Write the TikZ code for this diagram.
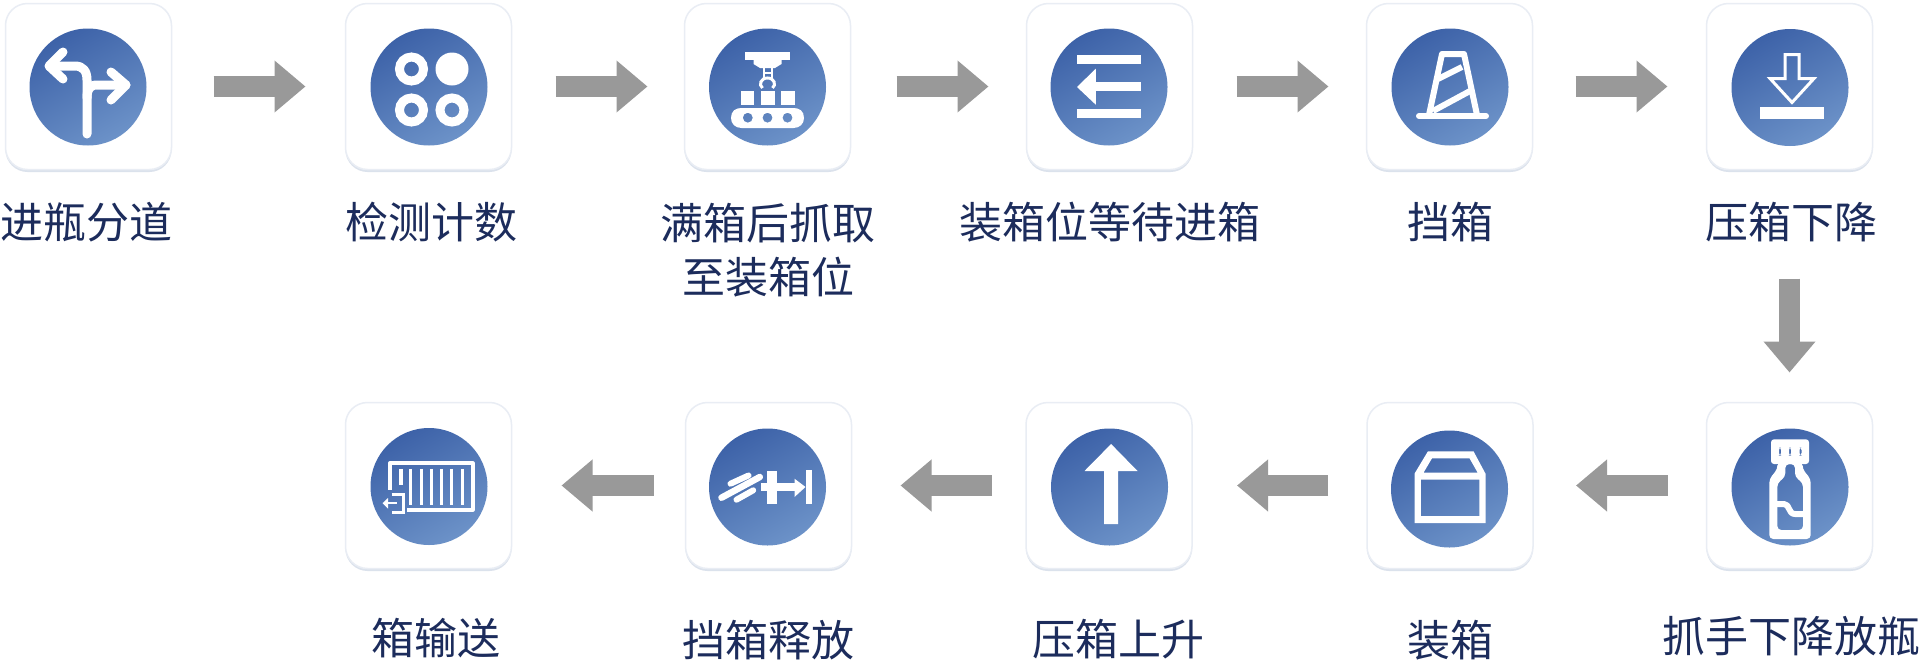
\documentclass[tikz,border=0pt]{standalone}
\usepackage{fontspec}
\setmainfont{Noto Sans CJK SC}
\usetikzlibrary{arrows.meta,shadows}
\definecolor{navy}{HTML}{1C2C5C}
\definecolor{icondark}{HTML}{3D62A8}
\definecolor{iconlight}{HTML}{6C92C8}
\definecolor{cardedge}{HTML}{E9EDF4}
\definecolor{cardshadow}{HTML}{CDD6E4}
\definecolor{arrowgray}{HTML}{999999}
\tikzset{
  cardbox/.style={draw=cardedge,line width=1.5pt,fill=white,rounded corners=22pt,
    minimum size=166pt,inner sep=0pt,outer sep=0pt,
    drop shadow={shadow xshift=0pt,shadow yshift=-2.5pt,opacity=.7,fill=cardshadow}},
  iconbg/.style={circle,minimum size=117pt,inner sep=0pt,outer sep=0pt,
    top color=icondark,bottom color=iconlight,shading angle=30},
  steplabel/.style={text=navy,font=\fontsize{43}{54}\selectfont,align=center,inner sep=0pt},
  flow/.style={draw=arrowgray,line width=21pt,-{Triangle[length=31pt,width=50pt,fill=arrowgray]}},
  wline/.style={draw=white,line cap=round,line join=round},
}
\newcommand{\stepcard}[5]{%
  \node[cardbox] (c#1) at (#2,#3) {};
  \node[iconbg] (i#1) at (#4,#5) {};
}
\begin{document}
\begin{tikzpicture}[x=1pt,y=-1pt]
\fill[white] (0,0) rectangle (1920,665);
\useasboundingbox (0,0) rectangle (1920,665);

% cards and discs
\stepcard{1}{88.5}{86.5}{88}{87}
\stepcard{2}{428.5}{86.5}{429}{87}
\stepcard{3}{767.5}{86.5}{767.5}{87}
\stepcard{4}{1109.5}{86.5}{1109}{87}
\stepcard{5}{1449.5}{86.5}{1450}{87}
\stepcard{6}{1789.5}{86.5}{1790}{87.5}
\stepcard{7}{1789.5}{485.5}{1790}{487}
\stepcard{8}{1450}{485.5}{1449.5}{489}
\stepcard{9}{1109}{485.5}{1109.5}{487}
\stepcard{10}{768.5}{485.5}{767.5}{487}
\stepcard{11}{428.5}{485.5}{429}{486.5}

% labels
\node[steplabel] (t1) at (87,222) {进瓶分道};
\node[steplabel] (t2) at (431,222) {检测计数};
\node[steplabel] (t3) at (768,250) {满箱后抓取\\至装箱位};
\node[steplabel] (t4) at (1110,222) {装箱位等待进箱};
\node[steplabel] (t5) at (1450,222) {挡箱};
\node[steplabel] (t6) at (1791,222) {压箱下降};
\node[steplabel] (t7) at (1791,636) {抓手下降放瓶};
\node[steplabel] (t8) at (1450,640) {装箱};
\node[steplabel] (t9) at (1118,639) {压箱上升};
\node[steplabel] (t10) at (768,640) {挡箱释放};
\node[steplabel] (t11) at (436,638) {箱输送};

% flow arrows
\draw[flow,shorten <=42pt,shorten >=40pt] (c1.east) -- (c2.west);
\draw[flow,shorten <=44pt,shorten >=37pt] (c2.east) -- (c3.west);
\draw[flow,shorten <=46pt,shorten >=38pt] (c3.east) -- (c4.west);
\draw[flow,shorten <=44pt,shorten >=38pt] (c4.east) -- (c5.west);
\draw[flow,shorten <=43pt,shorten >=39pt] (c5.east) -- (c6.west);
\draw[flow,shorten <=109pt,shorten >=30pt] (c6.south) -- (c7.north);
\draw[flow,shorten <=39pt,shorten >=43pt] (c7.west) -- (c8.east);
\draw[flow,shorten <=39pt,shorten >=45pt] (c8.west) -- (c9.east);
\draw[flow,shorten <=34pt,shorten >=49pt] (c9.west) -- (c10.east);
\draw[flow,shorten <=32pt,shorten >=50pt] (c10.west) -- (c11.east);

% icon 1: fork
\begin{scope}[shift={(i1.center)}]
  \draw[wline,line width=9pt] (-1,47) -- (-1,-7) .. controls (-1,-16) and (-5,-21) .. (-13,-21) -- (-38,-21);
  \draw[wline,line width=9pt] (-25,-35) -- (-39,-21) -- (-25,-8);
  \draw[wline,line width=9pt] (-1,11) .. controls (-1,2) and (2,-2) .. (9,-2) -- (38,-2);
  \draw[wline,line width=9pt] (23,-15) -- (38,-2) -- (23,13);
\end{scope}

% icon 2: four dots
\begin{scope}[shift={(i2.center)}]
  \draw[white,line width=9pt] (-17.5,-18) circle[radius=12];
  \fill[white] (23,-18) circle[radius=16.5];
  \draw[white,line width=9pt] (-17.5,23) circle[radius=12];
  \draw[white,line width=9pt] (23,23) circle[radius=12];
\end{scope}

% icon 3: gripper over conveyor
\begin{scope}[shift={(i3.center)}]
  \fill[white] (-22.5,-35) rectangle (22.5,-27);
  \fill[white] (-14,-27.5) -- (14,-27.5) -- (14,-23) -- (7.5,-19) -- (-7.5,-19) -- (-14,-23) -- cycle;
  \draw[white,line width=2pt] (-4,-19) -- (-4,-9) (4,-19) -- (4,-9) (-4,-14) -- (4,-14);
  \draw[white,line width=3pt] (-5,1) .. controls (-9,-2) and (-7,-9) .. (0,-9) .. controls (7,-9) and (9,-2) .. (5,1);
  \fill[white] (-27,4) rectangle (-13.5,17.5);
  \fill[white] (-7,4) rectangle (7,17.5);
  \fill[white] (13.7,4) rectangle (27.7,17.5);
  \fill[white,even odd rule] (-36.5,31) .. controls (-36.5,24) and (-32,21) .. (-26,21) -- (26,21)
     .. controls (32,21) and (36.5,24) .. (36.5,31) .. controls (36.5,37) and (32,41) .. (26,41) -- (-26,41)
     .. controls (-32,41) and (-36.5,37) .. (-36.5,31) -- cycle
     (-19.7,30.7) circle[radius=5] (0,30.7) circle[radius=5] (20,30.7) circle[radius=5];
\end{scope}

% icon 4: lines with left arrow
\begin{scope}[shift={(i4.center)}]
  \fill[white] (-32,-31.7) rectangle (32,-22.7);
  \fill[white] (-32,22.3) rectangle (32,31.3);
  \fill[white] (-13.5,-4.7) rectangle (32,4.3);
  \fill[white] (-32,0) -- (-13.2,-18.3) -- (-13.2,17.7) -- cycle;
\end{scope}

% icon 5: cone
\begin{scope}[shift={(i5.center)}]
  \draw[wline,line width=6pt,line cap=butt] (-21,28) -- (-8,-33) -- (14,-33) -- (27,28);
  \draw[wline,line width=6pt,line cap=butt] (-12,-8) -- (12,-20);
  \draw[wline,line width=6pt,line cap=butt] (-17,24) -- (20,4);
  \draw[wline,line width=6pt] (-31,29) -- (36,29);
\end{scope}

% icon 6: down arrow onto bar
\begin{scope}[shift={(i6.center)}]
  \draw[white,line width=3pt,line join=miter] (-5,-33) -- (9,-33) -- (9,-9) -- (24,-9) -- (2,15) -- (-20,-9) -- (-5,-9) -- cycle;
  \fill[white] (-30,19.3) rectangle (33.5,31.3);
\end{scope}

% icon 7: bottle
\begin{scope}[shift={(i7.center)}]
  \fill[white,even odd rule,rounded corners=3pt] (-19,-47.7) rectangle (19,-23)
     (-11,-40) rectangle (-9,-31) (-1,-40) rectangle (1,-31) (9.5,-40) rectangle (11.5,-31);
  \fill[white,even odd rule,rounded corners=4pt]
     (-12.5,-25) -- (12.5,-25) -- (12.5,-18) -- (20.7,-8) -- (20.7,52) -- (-20.7,52) -- (-20.7,-8) -- (-12.5,-18) -- cycle
     (-4.7,-23) -- (5,-23) -- (5,-10) -- (13,-4) -- (13,43) -- (-12.7,43) -- (-12.7,-4) -- (-4.7,-10) -- cycle;
  \draw[white,line width=6pt,line join=round] (-13,17) -- (-6,17) .. controls (0,17) and (-2,27) .. (5,27) -- (13,27);
\end{scope}

% icon 8: box
\begin{scope}[shift={(i8.center)}]
  \fill[white,even odd rule] (-21.6,-37.7) -- (24,-37.7) -- (36,-15.3) -- (36,34) -- (-35,34) -- (-35,-15.3) -- cycle
    (-17.5,-30.7) -- (20,-30.7) -- (28.2,-16.3) -- (-26,-16.3) -- cycle
    (-28.6,-9.3) rectangle (29.8,27);
\end{scope}

% icon 9: up arrow
\begin{scope}[shift={(i9.center)}]
  \fill[white] (1.6,-43) -- (28,-16) -- (8.6,-16) -- (8.6,37) -- (-5.3,37) -- (-5.3,-16) -- (-25,-16) -- cycle;
\end{scope}

% icon 10: release
\begin{scope}[shift={(i10.center)}]
  \draw[wline,line width=6.5pt] (-46,10.7) -- (-7.7,-10);
  \draw[wline,line width=6pt] (-37,-3.3) -- (-19,-11.5);
  \draw[wline,line width=6pt] (-31,12.7) -- (-14.3,3.3);
  \fill[white] (-0.3,-16) rectangle (9,16.7);
  \fill[white] (-6.7,-4.3) rectangle (30,4);
  \fill[white] (27,-8.3) -- (38,0) -- (27,10) -- cycle;
  \fill[white] (38,-16.7) rectangle (44,16.7);
\end{scope}

% icon 11: container
\begin{scope}[shift={(i11.center)}]
  \draw[white,line width=4pt,line join=round] (-39,3.3) -- (-39,-23.3) -- (43.7,-23.3) -- (43.7,23.3) -- (-21.7,23.3);
  \draw[white,line width=3.2pt] (-28,-17.7) -- (-28,-1.3);
  \foreach \bx in {-18.3,-7.7,2.3,12.7,22.7,33.3} \draw[white,line width=3.2pt] (\bx,-17.7) -- (\bx,18);
  \draw[white,line width=3pt] (-37.3,8.3) -- (-25.7,8.3) -- (-25.7,25.7) -- (-37.3,25.7);
  \draw[white,line width=2.5pt] (-44,16.7) -- (-32.3,16.7);
  \fill[white] (-46.5,16.7) -- (-41,11.5) -- (-41,22) -- cycle;
\end{scope}
\end{tikzpicture}
\end{document}
